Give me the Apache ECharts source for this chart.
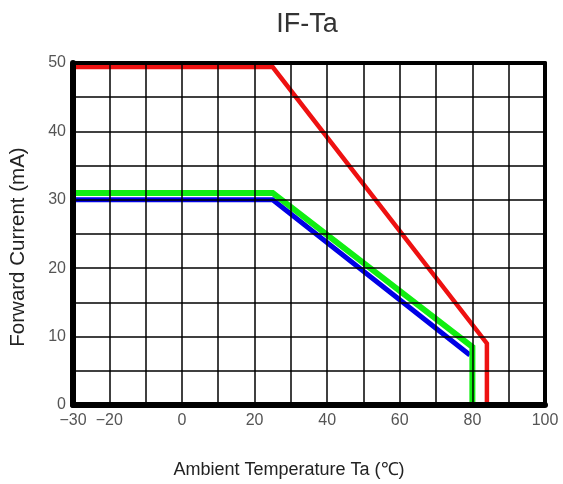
<!DOCTYPE html>
<html>
<head>
<meta charset="utf-8">
<script src="https://cdn.jsdelivr.net/npm/echarts@6/dist/echarts.min.js"></script>
<style>html,body{margin:0;padding:0;background:#fff}#c{width:563px;height:484px}</style>
</head>
<body>
<div id="c"></div>
<script>
const redX = [-30, 25, 84, 84];
const redY = [49.4, 49.4, 9, 0];
const blueX = [-30, 25, 79.3];
const blueY = [30, 30, 7.3];
const greenX = [-30, 25, 80, 80];
const greenY = [31, 31, 8.5, 0];
const xTickLabels = [-30, -20, 0, 20, 40, 60, 80, 100];
const yTickLabels = [0, 10, 20, 30, 40, 50];

const zip = (xs, ys) => xs.map((x, i) => [x, ys[i]]);
const font = 'Liberation Sans, Arial, sans-serif';

const chart = echarts.init(document.getElementById('c'));
chart.setOption({
  animation: false,
  title: {
    text: 'IF-Ta', left: 302, top: 6, textAlign: 'center',
    textStyle: { fontFamily: font, fontSize: 27, fontWeight: 'normal', color: '#333' }
  },
  grid: { left: 73, right: 18, top: 63, bottom: 79 },
  xAxis: [{
    type: 'value', min: -30, max: 100, interval: 10, position: 'bottom', z: 10,
    axisLine: { show: true, onZero: false, lineStyle: { color: '#000', width: 6 } },
    axisTick: { show: false },
    splitLine: { show: true, lineStyle: { color: '#000', width: 1.5 } },
    axisLabel: {
      margin: 8, color: '#555', fontFamily: font, fontSize: 16,
      formatter: v => xTickLabels.includes(v) ? String(v).replace('-', '\u2212') : ''
    },
    name: 'Ambient Temperature Ta (\u2103)', nameLocation: 'middle', nameGap: 56,
    nameTextStyle: { fontFamily: font, fontSize: 18, color: '#222', padding: [0, 40, 0, 0] }
  }, {
    type: 'value', min: -30, max: 100, interval: 10, position: 'top', z: 10,
    axisLine: { show: true, onZero: false, lineStyle: { color: '#000', width: 4 } },
    axisTick: { show: false }, axisLabel: { show: false }, splitLine: { show: false }
  }],
  yAxis: [{
    type: 'value', min: 0, max: 50, interval: 5, position: 'left', z: 10,
    axisLine: { show: true, onZero: false, lineStyle: { color: '#000', width: 6 } },
    axisTick: { show: false },
    splitLine: { show: true, lineStyle: { color: '#000', width: 1.5 } },
    axisLabel: {
      margin: 7, color: '#555', fontFamily: font, fontSize: 16,
      formatter: v => yTickLabels.includes(v) ? String(v) : ''
    },
    name: 'Forward Current (mA)', nameLocation: 'middle', nameGap: 44,
    nameTextStyle: { fontFamily: font, fontSize: 20.5, color: '#222', padding: [0, 26, 0, 0] }
  }, {
    type: 'value', min: 0, max: 50, interval: 5, position: 'right', z: 10,
    axisLine: { show: true, onZero: false, lineStyle: { color: '#000', width: 4 } },
    axisTick: { show: false }, axisLabel: { show: false }, splitLine: { show: false }
  }],
  series: [
    { type: 'line', data: zip(redX, redY), showSymbol: false, symbol: 'none', z: 2,
      lineStyle: { color: '#ee1111', width: 4.5, join: 'miter' } },
    { type: 'line', data: zip(blueX, blueY), showSymbol: false, symbol: 'none', z: 3,
      lineStyle: { color: '#0000e6', width: 5, join: 'miter' } },
    { type: 'line', data: zip(greenX, greenY), showSymbol: false, symbol: 'none', z: 4,
      lineStyle: { color: '#11ee11', width: 6, join: 'miter' } }
  ]
});
</script>
</body>
</html>
